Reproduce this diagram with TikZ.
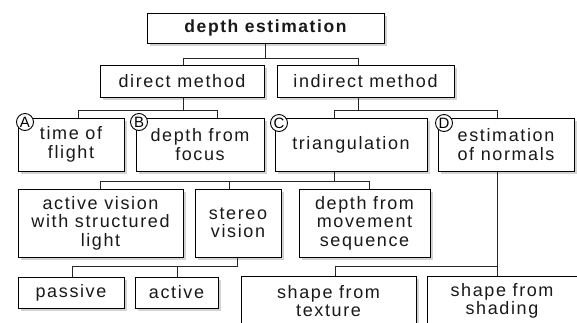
\documentclass[tikz,border=0pt]{standalone}
\usepackage{fontspec}
\setmainfont{Liberation Sans}[LetterSpace=9]
\usetikzlibrary{shadows}

\begin{document}
\begin{tikzpicture}[x=1pt,y=-1pt,
  box/.style={rectangle, draw=black, line width=1pt, fill=white, align=center,
    inner sep=0pt, text=black!90, font=\fontsize{18}{18.5}\selectfont,
    drop shadow={shadow xshift=2.5pt, shadow yshift=-2.5pt, opacity=0.35}},
  tag/.style={circle, draw=black, line width=0.9pt, fill=white, inner sep=0pt,
    minimum size=17pt, font=\fontsize{15}{15}\selectfont},
  link/.style={draw=black!85, line width=0.9pt}]

\useasboundingbox (0,0) rectangle (577,322);
\clip (0,0) rectangle (577,322);

\node (est) [box, minimum width=237, minimum height=30, font=\bfseries\fontsize{17.5}{18}\selectfont] at (265.5,28) {depth estimation};

\node (direct) [box, minimum width=164, minimum height=32] at (182,81) {direct method};
\node (indirect) [box, minimum width=177, minimum height=32] at (365.5,81) {indirect method};

\node (tof) [box, minimum width=106, minimum height=53] at (71,144.5) {time of\\flight};
\node (focus) [box, minimum width=128, minimum height=53] at (200,144.5) {depth from\\focus};
\node (tri) [box, minimum width=152, minimum height=53] at (351,144.5) {triangulation};
\node (normals) [box, minimum width=136, minimum height=53] at (506,144.5) {estimation\\of normals};

\node (light) [box, minimum width=165, minimum height=68] at (100.5,223) {active vision\\with structured\\light};
\node (stereo) [box, minimum width=86, minimum height=68] at (238,223) {stereo\\vision};
\node (movement) [box, minimum width=131, minimum height=68] at (364.5,223) {depth from\\movement\\sequence};

\node (passive) [box, minimum width=106, minimum height=31] at (71,292.5) {passive};
\node (active) [box, minimum width=83, minimum height=31] at (176.5,292.5) {active};
\node (texture) [box, minimum width=175, minimum height=50] at (328.5,301) {shape from\\texture};
\node (shading) [box, minimum width=150, minimum height=50] at (502,301) {shape from\\shading};

\node (tagA) [tag] at (25,122) {A};
\node (tagB) [tag] at (139,122) {B};
\node (tagC) [tag] at (279,123) {C};
\node (tagD) [tag] at (444,123) {D};

% tree lines
\draw[link] (est.south) -- ++(0,15) coordinate (busA);
\draw[link] ([xshift=1pt]direct.north) |- (busA) -| ([xshift=-7.5pt]indirect.north);

\draw[link] ([xshift=1pt]direct.south) -- ++(0,13) coordinate (busB);
\draw[link] ([xshift=7pt]tof.north) |- (busB) -| ([xshift=17pt]focus.north);

\draw[link] ([xshift=-7.5pt]indirect.south) -- ++(0,13) coordinate (busC);
\draw[link] ([xshift=-17pt]tri.north) |- (busC) -| ([xshift=-9pt]normals.north);

\draw[link] ([xshift=-17pt]tri.south) -- ++(0,10) coordinate (busD);
\draw[link] ([xshift=-0.5pt]light.north) |- (busD) -| ([xshift=4.5pt]movement.north);
\draw[link] ([xshift=-9pt]stereo.north) -- ++(0,-8);

\draw[link] ([xshift=-1pt]stereo.south) -- ++(0,9) coordinate (busE);
\draw[link] ([xshift=1pt]passive.north) |- (busE);
\draw[link] ([xshift=0.5pt]active.north) -- ++(0,-10);

\draw[link] ([xshift=-9pt]normals.south) -- ([xshift=-5pt]shading.north);
\draw[link] ([xshift=6.5pt]texture.north) -- ++(0,-9) -| ([xshift=-9pt]normals.south);

\end{tikzpicture}
\end{document}
